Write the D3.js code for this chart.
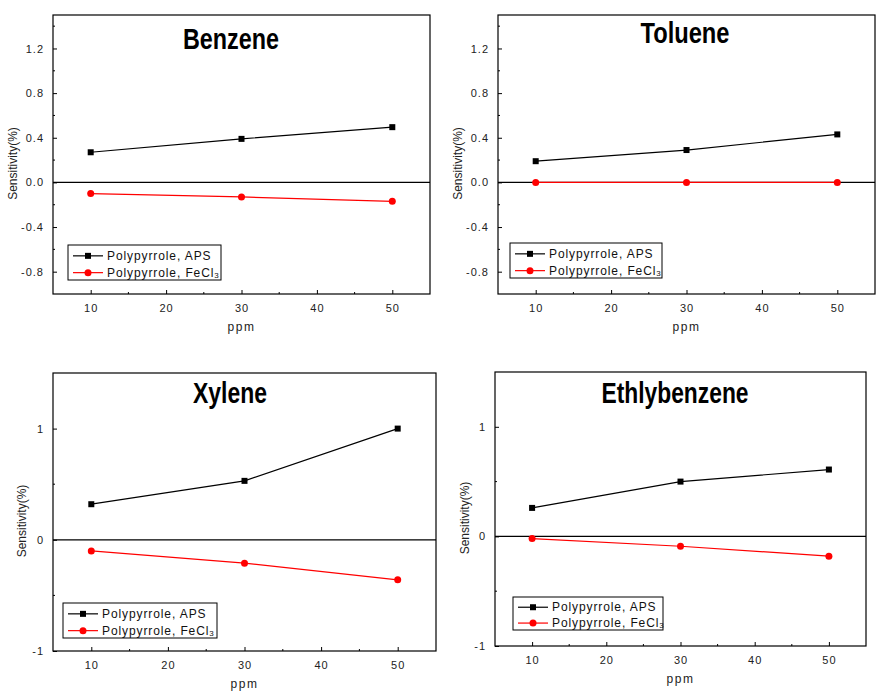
<!DOCTYPE html>
<html>
<head>
<meta charset="utf-8">
<script src="https://cdn.jsdelivr.net/npm/d3@7"></script>
<style>
  body { margin: 0; background: #fff; }
  svg { display: block; }
  text { font-family: Arial, "Liberation Sans", sans-serif; }
</style>
</head>
<body>
<svg id="chart" width="895" height="700"></svg>
<script>
// ---------- data ----------
const ppm = [10, 30, 50];
const titles = ["Benzene", "Toluene", "Xylene", "Ethlybenzene"];
const seriesNames = ["Polypyrrole, APS", "Polypyrrole, FeCl"];

const benzeneAPS   = [0.27, 0.39, 0.495];
const benzeneFeCl3 = [-0.10, -0.13, -0.17];
const tolueneAPS   = [0.19, 0.29, 0.43];
const tolueneFeCl3 = [0.0, 0.0, 0.0];
const xyleneAPS    = [0.32, 0.53, 1.0];
const xyleneFeCl3  = [-0.10, -0.21, -0.36];
const ethylAPS     = [0.26, 0.50, 0.61];
const ethylFeCl3   = [-0.02, -0.09, -0.18];

const xTicks = [10, 20, 30, 40, 50];
const xMinor = [15, 25, 35, 45];
const yTicksTop = [-0.8, -0.4, 0.0, 0.4, 0.8, 1.2];
const yTickLabelsTop = ["-0.8", "-0.4", "0.0", "0.4", "0.8", "1.2"];
const yMinorTop = [-0.6, -0.2, 0.2, 0.6, 1.0, 1.4];
const yTicksBottom = [-1, 0, 1];
const yTickLabelsBottom = ["-1", "0", "1"];
const yMinorBottom = [-0.5, 0.5];

// ---------- layout ----------
const panels = [
  { title: titles[0], aps: benzeneAPS, fe: benzeneFeCl3, l: 53, r: 430, t: 15, b: 294,
    yt: yTicksTop, ytl: yTickLabelsTop, ym: yMinorTop, titleX: 231, titleDy: 34, titleW: 96, ylabDx: -40,
    leg: [68, 245, 153, 35] },
  { title: titles[1], aps: tolueneAPS, fe: tolueneFeCl3, l: 498, r: 875, t: 15, b: 294,
    yt: yTicksTop, ytl: yTickLabelsTop, ym: yMinorTop, titleX: 685, titleDy: 28, titleW: 89, ylabDx: -40,
    leg: [510, 243, 152, 35] },
  { title: titles[2], aps: xyleneAPS, fe: xyleneFeCl3, l: 53, r: 436, t: 373, b: 651,
    yt: yTicksBottom, ytl: yTickLabelsBottom, ym: yMinorBottom, titleX: 230, titleDy: 30, titleW: 74, ylabDx: -31,
    leg: [63, 603, 154, 35] },
  { title: titles[3], aps: ethylAPS, fe: ethylFeCl3, l: 495, r: 866, t: 372, b: 646,
    yt: yTicksBottom, ytl: yTickLabelsBottom, ym: yMinorBottom, titleX: 675, titleDy: 31, titleW: 147, ylabDx: -30,
    leg: [513, 597, 150, 33] }
];

const svg = d3.select("#chart");
const RED = "#ff0000";

panels.forEach(p => {
  const x = d3.scaleLinear().domain([5, 55]).range([p.l, p.r]);
  const y = d3.scaleLinear().domain([-1, 1.5]).range([p.b, p.t]);
  const g = svg.append("g");

  // frame
  g.append("rect").attr("x", p.l).attr("y", p.t)
    .attr("width", p.r - p.l).attr("height", p.b - p.t)
    .attr("fill", "none").attr("stroke", "#000").attr("stroke-width", 1.2);

  // zero line
  g.append("line").attr("x1", p.l).attr("x2", p.r)
    .attr("y1", y(0)).attr("y2", y(0)).attr("stroke", "#000").attr("stroke-width", 1.2);

  // x axis ticks (inward)
  const xAxis = d3.axisBottom(x).tickValues(xTicks).tickSizeInner(-4).tickSizeOuter(0).tickPadding(10);
  const xa = g.append("g").attr("transform", `translate(0,${p.b})`).call(xAxis);
  xa.select(".domain").remove();
  xa.selectAll("text").attr("font-size", 11).attr("letter-spacing", 1).attr("fill", "#222");
  xMinor.forEach(v => g.append("line").attr("x1", x(v)).attr("x2", x(v))
    .attr("y1", p.b).attr("y2", p.b - 2).attr("stroke", "#000"));

  // y axis ticks (inward)
  const yAxis = d3.axisLeft(y).tickValues(p.yt).tickFormat((d, i) => p.ytl[i])
    .tickSizeInner(-4).tickSizeOuter(0).tickPadding(9);
  const ya = g.append("g").attr("transform", `translate(${p.l},0)`).call(yAxis);
  ya.select(".domain").remove();
  ya.selectAll("text").attr("font-size", 11).attr("letter-spacing", 1).attr("fill", "#222");
  p.ym.forEach(v => g.append("line").attr("x1", p.l).attr("x2", p.l + 2)
    .attr("y1", y(v)).attr("y2", y(v)).attr("stroke", "#000"));

  // axis labels
  g.append("text").attr("x", (p.l + p.r) / 2).attr("y", p.b + 37)
    .attr("text-anchor", "middle").attr("font-size", 12).attr("letter-spacing", 1.5)
    .attr("fill", "#222").text("ppm");
  const ly = (p.t + p.b) / 2 + 9;
  g.append("text").attr("transform", `translate(${p.l + p.ylabDx},${ly}) rotate(-90)`)
    .attr("text-anchor", "middle").attr("dy", "0.35em").attr("font-size", 12)
    .attr("fill", "#222").text("Sensitivity(%)");

  // title
  g.append("text").attr("x", p.titleX - p.titleW / 2).attr("y", p.t + p.titleDy)
    .attr("font-weight", "bold").attr("font-size", 29).attr("fill", "#000")
    .attr("textLength", p.titleW).attr("lengthAdjust", "spacingAndGlyphs")
    .text(p.title);

  const line = d3.line().x((d, i) => x(ppm[i])).y(d => y(d));

  // APS series
  g.append("path").datum(p.aps).attr("d", line).attr("fill", "none")
    .attr("stroke", "#000").attr("stroke-width", 1.2);
  g.selectAll(null).data(p.aps).enter().append("rect")
    .attr("x", (d, i) => x(ppm[i]) - 3).attr("y", d => y(d) - 3)
    .attr("width", 6).attr("height", 6).attr("fill", "#000");

  // FeCl3 series
  g.append("path").datum(p.fe).attr("d", line).attr("fill", "none")
    .attr("stroke", RED).attr("stroke-width", 1.2);
  g.selectAll(null).data(p.fe).enter().append("circle")
    .attr("cx", (d, i) => x(ppm[i])).attr("cy", d => y(d)).attr("r", 3.5).attr("fill", RED);

  // legend
  const [lx, lyy, lw, lh] = p.leg;
  const lg = g.append("g").attr("transform", `translate(${lx},${lyy})`);
  lg.append("rect").attr("width", lw).attr("height", lh).attr("fill", "#fff")
    .attr("stroke", "#000").attr("stroke-width", 1);
  const rows = [lh * 0.31, lh * 0.79];
  // row 1
  lg.append("line").attr("x1", 5).attr("x2", 35).attr("y1", rows[0]).attr("y2", rows[0])
    .attr("stroke", "#000").attr("stroke-width", 1.2);
  lg.append("rect").attr("x", 17).attr("y", rows[0] - 3).attr("width", 6).attr("height", 6).attr("fill", "#000");
  lg.append("text").attr("x", 39).attr("y", rows[0]).attr("dy", "0.35em")
    .attr("font-size", 12).attr("letter-spacing", 0.9).attr("fill", "#111").text(seriesNames[0]);
  // row 2
  lg.append("line").attr("x1", 5).attr("x2", 35).attr("y1", rows[1]).attr("y2", rows[1])
    .attr("stroke", RED).attr("stroke-width", 1.2);
  lg.append("circle").attr("cx", 20).attr("cy", rows[1]).attr("r", 3.5).attr("fill", RED);
  const t2 = lg.append("text").attr("x", 39).attr("y", rows[1]).attr("dy", "0.35em")
    .attr("font-size", 12).attr("letter-spacing", 0.9).attr("fill", "#111");
  t2.append("tspan").text(seriesNames[1]);
  t2.append("tspan").attr("font-size", 8).attr("dy", "0.15em").attr("letter-spacing", 0).text("3");
});
</script>
</body>
</html>
